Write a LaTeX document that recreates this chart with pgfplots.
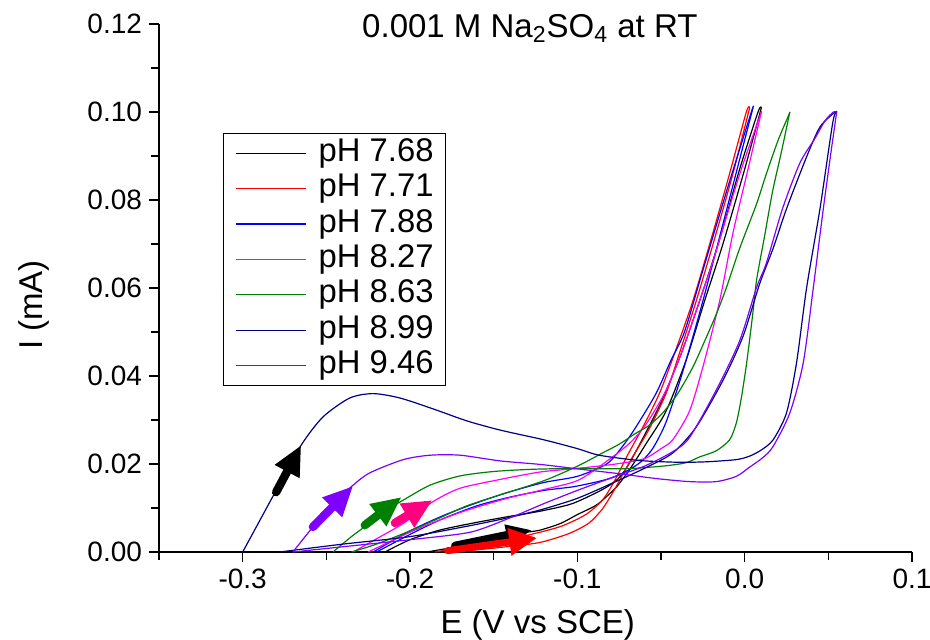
\documentclass[border=0pt]{standalone}
\usepackage{fontspec}
\setmainfont{Liberation Sans}
\usepackage{pgfplots}
\pgfplotsset{compat=1.18}
\usetikzlibrary{arrows.meta}
\definecolor{navyc}{RGB}{0,0,128}
\definecolor{violetc}{RGB}{128,0,255}
\definecolor{greenc}{RGB}{0,128,0}
\definecolor{magc}{RGB}{255,0,255}
\definecolor{deeppink}{RGB}{255,0,128}
\begin{document}
\begin{tikzpicture}
\begin{axis}[
  at={(0,0)}, anchor=south west,
  scale only axis, width=376.5pt, height=264pt,
  xmin=-0.35, xmax=0.1, ymin=0, ymax=0.12,
  axis x line*=bottom, axis y line*=left,
  axis line style={line width=1pt},
  tick align=outside,
  major tick length=5pt, minor tick length=4pt,
  every tick/.style={black, line width=0.8pt},
  xtick={-0.3,-0.2,-0.1,0,0.1},
  minor xtick={-0.35,-0.25,-0.15,-0.05,0.05},
  ytick={0,0.02,0.04,0.06,0.08,0.1,0.12},
  minor ytick={0.01,0.03,0.05,0.07,0.09,0.11},
  xticklabel style={/pgf/number format/.cd, fixed, fixed zerofill, precision=1, assume math mode=true},
  yticklabel style={/pgf/number format/.cd, fixed, fixed zerofill, precision=2, assume math mode=true},
  scaled ticks=false,
  ticklabel style={font=\fontsize{14}{16}\selectfont},
  xlabel={E (V vs SCE)},
  ylabel={I (mA)},
  label style={font=\fontsize{16.5}{18}\selectfont},
  xlabel style={at={(axis description cs:0.503,-0.138)}, anchor=center},
  ylabel style={at={(axis description cs:-0.166,0.468)}, anchor=center},
  title={0.001 M Na\textsubscript{2}SO\textsubscript{4} at RT},
  title style={at={(axis description cs:0.4925,0.997)}, anchor=north, inner sep=0pt, font=\fontsize{16.5}{18}\selectfont},
  legend cell align=left,
  legend style={at={(axis description cs:0.085,0.7936)}, anchor=north west,
    draw=black, line width=0.5pt, fill=white,
    inner xsep=6pt, inner ysep=1pt, column sep=6pt, row sep=0pt,
    font=\fontsize{16.4}{17.7}\selectfont,
    nodes={inner xsep=0pt, inner ysep=0pt, text height=12.95pt, text depth=4.75pt}},
  legend image code/.code={\draw[#1, line width=0.6pt] (0pt,0pt) -- (35pt,0pt);},
  clip=false,
  every axis plot/.append style={line width=0.6pt, line join=round, smooth, tension=0.45},
]
% pH 7.68
\addplot[black] coordinates {
(-0.19,0) (-0.175,0.001) (-0.16,0.0022) (-0.145,0.0035) (-0.13,0.0045) (-0.122,0.005) (-0.11,0.0065) (-0.1,0.0085) (-0.0885,0.0107) (-0.08,0.0135) (-0.0765,0.0148) (-0.069,0.0186) (-0.0586,0.0248) (-0.047,0.032) (-0.035,0.0436) (-0.024,0.057) (-0.013,0.070) (0.0,0.087) (0.010,0.101)};
\addlegendentry{pH 7.68}
\addplot[black, forget plot] coordinates {
(0.010,0.101) (0.008,0.1) (-0.003,0.087) (-0.015,0.071) (-0.027,0.057) (-0.038,0.045) (-0.05,0.034) (-0.062,0.025) (-0.07,0.0195) (-0.076,0.0165) (-0.085,0.0142) (-0.103,0.011) (-0.122,0.0093) (-0.142,0.008) (-0.162,0.0066) (-0.182,0.005) (-0.2,0.0028) (-0.215,0)};
% pH 7.71
\addplot[red] coordinates {
(-0.178,0) (-0.16,0.0005) (-0.14,0.0013) (-0.122,0.0022) (-0.105,0.0042) (-0.093,0.0066) (-0.085,0.0098) (-0.079,0.0134) (-0.073,0.0175) (-0.067,0.0216) (-0.057,0.028) (-0.047,0.036) (-0.04,0.044) (-0.029,0.057) (-0.017,0.0725) (-0.007,0.086) (0.003,0.101)};
\addlegendentry{pH 7.71}
\addplot[red, forget plot] coordinates {
(0.003,0.101) (0.001,0.1) (-0.009,0.086) (-0.019,0.0725) (-0.031,0.057) (-0.043,0.044) (-0.051,0.036) (-0.06,0.029) (-0.07,0.022) (-0.078,0.016) (-0.085,0.0118) (-0.095,0.0085) (-0.11,0.0058) (-0.13,0.0038) (-0.15,0.0023) (-0.17,0.001) (-0.185,0)};
% pH 7.88
\addplot[blue] coordinates {
(-0.22,0) (-0.2,0.004) (-0.182,0.0073) (-0.16,0.0105) (-0.14,0.0125) (-0.12,0.014) (-0.103,0.0148) (-0.09,0.0158) (-0.08,0.0168) (-0.07,0.0185) (-0.062,0.0205) (-0.055,0.0235) (-0.047,0.0295) (-0.037,0.041) (-0.025,0.057) (-0.012,0.076) (0.005,0.101)};
\addlegendentry{pH 7.88}
\addplot[blue, forget plot] coordinates {
(0.005,0.101) (0.004,0.1) (-0.01,0.083) (-0.025,0.064) (-0.036,0.05) (-0.044,0.0436) (-0.053,0.036) (-0.065,0.0284) (-0.073,0.024) (-0.0825,0.020) (-0.1,0.0172) (-0.12,0.0158) (-0.142,0.0135) (-0.16,0.0112) (-0.18,0.0083) (-0.2,0.0048) (-0.222,0)};
% pH 8.27
\addplot[magc] coordinates {
(-0.234,0) (-0.22,0.003) (-0.204,0.0065) (-0.186,0.0115) (-0.17,0.0145) (-0.146,0.0165) (-0.122,0.0182) (-0.1,0.019) (-0.077,0.020) (-0.06,0.0212) (-0.05,0.0235) (-0.043,0.0255) (-0.033,0.032) (-0.025,0.042) (-0.015,0.057) (-0.007,0.0725) (0.002,0.087) (0.010,0.100)};
\addlegendentry{pH 8.27}
\addplot[magc, forget plot] coordinates {
(0.010,0.100) (0.009,0.099) (-0.002,0.087) (-0.011,0.076) (-0.019,0.066) (-0.027,0.057) (-0.038,0.045) (-0.048,0.036) (-0.059,0.029) (-0.068,0.025) (-0.079,0.0216) (-0.099,0.0164) (-0.12,0.0142) (-0.142,0.0122) (-0.166,0.0095) (-0.182,0.0073) (-0.2,0.0045) (-0.225,0)};
% pH 8.63
\addplot[greenc] coordinates {
(-0.246,0) (-0.235,0.0035) (-0.224,0.0066) (-0.214,0.0095) (-0.204,0.0118) (-0.188,0.0152) (-0.17,0.0173) (-0.15,0.0183) (-0.127,0.0188) (-0.1,0.019) (-0.087,0.0189) (-0.067,0.019) (-0.047,0.0196) (-0.035,0.0203) (-0.027,0.0216) (-0.017,0.023) (-0.009,0.0255) (-0.005,0.0293) (-0.002,0.035) (0.0012,0.043) (0.0048,0.054) (0.0072,0.062) (0.012,0.072) (0.0167,0.082) (0.022,0.091) (0.027,0.100)};
\addlegendentry{pH 8.63}
\addplot[greenc, forget plot] coordinates {
(0.027,0.100) (0.026,0.099) (0.020,0.0936) (0.013,0.086) (0.007,0.079) (-0.003,0.069) (-0.011,0.060) (-0.017,0.054) (-0.025,0.047) (-0.031,0.042) (-0.04,0.036) (-0.049,0.0316) (-0.057,0.0288) (-0.065,0.027) (-0.075,0.0245) (-0.085,0.0225) (-0.1,0.0195) (-0.12,0.0162) (-0.146,0.013) (-0.166,0.0105) (-0.182,0.0078) (-0.2,0.0048) (-0.22,0.0018) (-0.235,0)};
% pH 8.99
\addplot[navyc] coordinates {
(-0.300,0) (-0.29,0.007) (-0.28,0.014) (-0.265,0.0243) (-0.252,0.0307) (-0.236,0.035) (-0.222,0.036) (-0.206,0.035) (-0.186,0.0325) (-0.166,0.0298) (-0.146,0.0277) (-0.12,0.0255) (-0.1,0.0235) (-0.087,0.022) (-0.063,0.0208) (-0.04,0.0204) (-0.023,0.0205) (-0.005,0.021) (0.003,0.0218) (0.01,0.0232) (0.017,0.0255) (0.025,0.0316) (0.031,0.043) (0.037,0.060) (0.045,0.078) (0.0526,0.0975) (0.055,0.100)};
\addlegendentry{pH 8.99}
\addplot[navyc, forget plot] coordinates {
(0.055,0.100) (0.054,0.1) (0.045,0.0966) (0.037,0.0898) (0.025,0.078) (0.017,0.069) (0.009,0.061) (-0.001,0.049) (-0.013,0.039) (-0.029,0.0284) (-0.043,0.0225) (-0.06,0.019) (-0.08,0.0155) (-0.1,0.0122) (-0.12,0.0098) (-0.14,0.0079) (-0.164,0.006) (-0.2,0.0035) (-0.24,0.0018) (-0.278,0)};
% pH 9.46
\addplot[violetc] coordinates {
(-0.27,0) (-0.258,0.0057) (-0.246,0.011) (-0.234,0.0152) (-0.224,0.018) (-0.204,0.021) (-0.188,0.022) (-0.17,0.022) (-0.146,0.0207) (-0.122,0.0199) (-0.1,0.0189) (-0.075,0.0178) (-0.053,0.0167) (-0.033,0.016) (-0.017,0.016) (-0.005,0.0172) (0.003,0.0193) (0.011,0.0215) (0.017,0.024) (0.027,0.0316) (0.035,0.043) (0.041,0.060) (0.047,0.078) (0.052,0.092) (0.055,0.100)};
\addlegendentry{pH 9.46}
\addplot[violetc, forget plot] coordinates {
(0.055,0.100) (0.053,0.1) (0.048,0.098) (0.042,0.094) (0.033,0.0884) (0.0226,0.078) (0.013,0.0657) (0.007,0.060) (-0.003,0.048) (-0.017,0.0368) (-0.033,0.026) (-0.043,0.0228) (-0.06,0.0195) (-0.08,0.0168) (-0.1,0.014) (-0.12,0.011) (-0.14,0.0078) (-0.164,0.0045) (-0.2,0.0028) (-0.24,0.0012) (-0.27,0)};
% direction arrows
\draw[black, line width=4.2pt, line cap=round, -{Triangle[length=15pt,width=13pt]}] (axis cs:-0.280,0.0136) -- (axis cs:-0.265,0.0243);
\draw[violetc, line width=4.2pt, line cap=round, -{Triangle[length=15pt,width=13pt]}] (axis cs:-0.258,0.0057) -- (axis cs:-0.234,0.0150);
\draw[greenc, line width=4.2pt, line cap=round, -{Triangle[length=15pt,width=13pt]}] (axis cs:-0.227,0.0061) -- (axis cs:-0.205,0.0125);
\draw[deeppink, line width=4.2pt, line cap=round, -{Triangle[length=15pt,width=13pt]}] (axis cs:-0.209,0.0066) -- (axis cs:-0.1865,0.0118);
\draw[black, line width=4.2pt, line cap=round, -{Triangle[length=13pt,width=10pt]}] (axis cs:-0.173,0.0014) -- (axis cs:-0.127,0.0050);
\draw[red, line width=3.5pt, line cap=round, -{Triangle[length=14pt,width=13pt]}] (axis cs:-0.1775,0.0003) -- (axis cs:-0.124,0.0032);
\end{axis}
\pgfresetboundingbox
\useasboundingbox (-79.5pt,-43.5pt) rectangle (385.5pt,276pt);
\end{tikzpicture}
\end{document}
